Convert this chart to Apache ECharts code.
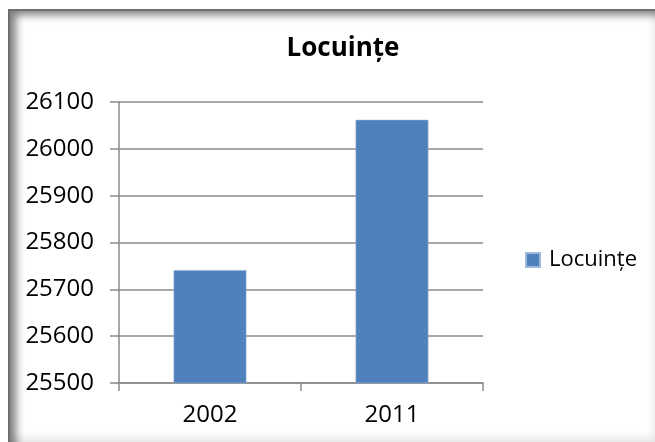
<!DOCTYPE html>
<html>
<head>
<meta charset="utf-8">
<script src="https://cdn.jsdelivr.net/npm/echarts@6/dist/echarts.min.js"></script>
<style>
    html, body { margin: 0; padding: 0; background: #fff; }
    #frame {
        position: absolute; left: 8px; top: 9px; width: 651px; height: 440px;
        border: 2px solid #6f6f6f; box-sizing: border-box;
        box-shadow: inset 9px 7px 9px -3px rgba(0,0,0,0.5), inset -6px -12px 10px -4px rgba(0,0,0,0.12);
    }
    #char1 { position: absolute; left: 0; top: 0; width: 655px; height: 442px; }
</style>
</head>
<body>
<div id="frame"></div>
<div id="char1"></div>
<script>
    // date reference
    var categories = ['2002', '2011'];
    var seriesName = 'Locuințe';
    var values = [25741, 26062];
    var yMin = 25500, yMax = 26100, yStep = 100;

    var font = '"Open Sans", "Noto Sans", sans-serif';
    var char1 = echarts.init(document.getElementById('char1'));
    var charOption = {
        backgroundColor: 'transparent',
        animation: false,
        title: {
            text: 'Locuințe',
            left: 338,
            top: 31,
            textAlign: 'center',
            textStyle: {fontFamily: font, fontSize: 26, fontWeight: 'bold', color: '#000'}
        },
        legend: {
            left: 525,
            top: 249,
            padding: 0,
            itemWidth: 14,
            itemHeight: 14,
            icon: 'rect',
            textStyle: {fontFamily: font, fontSize: 22, color: '#000', padding: [0, 0, 0, 4]},
            data: [seriesName]
        },
        grid: {left: 119, right: 172, top: 102, bottom: 59},
        xAxis: {
            type: 'category',
            data: categories,
            axisLine: {lineStyle: {color: '#8a8a8a', width: 1.5}},
            axisTick: {show: true, length: 8, lineStyle: {color: '#8a8a8a', width: 1.5}},
            axisLabel: {fontFamily: font, fontSize: 24, color: '#000', margin: 20}
        },
        yAxis: {
            type: 'value',
            min: yMin,
            max: yMax,
            interval: yStep,
            axisLine: {show: true, lineStyle: {color: '#8a8a8a', width: 1.5}},
            axisTick: {show: true, length: 9, lineStyle: {color: '#8a8a8a', width: 1.5}},
            axisLabel: {fontFamily: font, fontSize: 24, color: '#000', margin: 25,
                formatter: function (v) { return String(v); }},
            splitLine: {lineStyle: {color: '#8a8a8a', width: 1.5}}
        },
        series: [
            {name: seriesName, type: 'bar', data: values, barWidth: '40%',
                itemStyle: {color: '#4f81bd', borderColor: '#9fb9dd', borderWidth: 0.5}}
        ]
    };
    char1.setOption(charOption);
</script>
</body>
</html>
